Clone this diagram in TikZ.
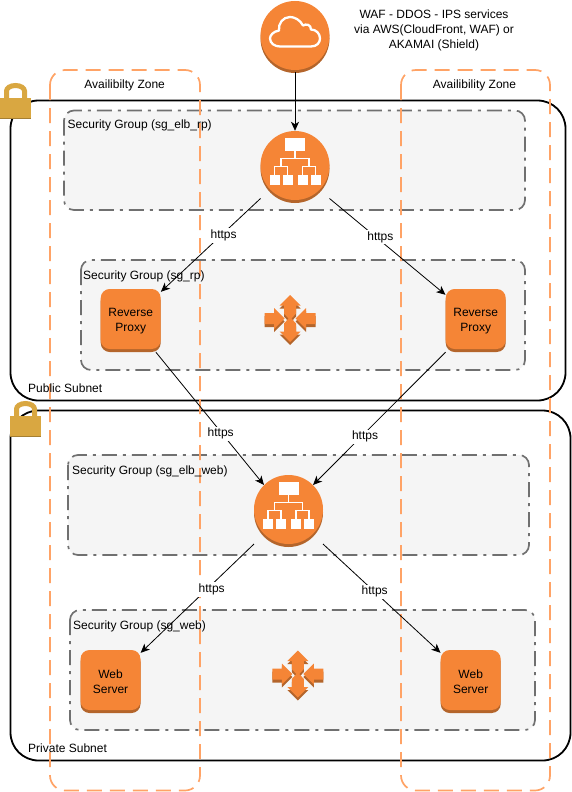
\documentclass[tikz,border=0pt]{standalone}
\usepackage{fontspec}
\setmainfont{Liberation Sans}
\usetikzlibrary{arrows.meta,shadows}
\definecolor{awsorange}{HTML}{F58536}
\definecolor{awsshadow}{HTML}{B4652B}
\definecolor{lockgold}{HTML}{D9A741}
\definecolor{lockshadow}{HTML}{A57F32}
\definecolor{zoneorange}{HTML}{FFA366}
\definecolor{groupline}{HTML}{707070}
\tikzstyle{subnet}=[draw=black,line width=1.8pt,rounded corners=28pt]
\tikzstyle{zone}=[draw=zoneorange,line width=1.7pt,rounded corners=15pt,dash pattern=on 15pt off 8pt]
\tikzstyle{secgroup}=[draw=groupline,fill=black!4,line width=1.7pt,rounded corners=10pt,dash pattern=on 15pt off 6pt on 3pt off 6pt]
\tikzstyle{label}=[font=\fontsize{12}{15}\selectfont,inner sep=0pt,align=center]
\tikzstyle{hubvertex}=[circle,fill=awsorange,minimum size=69pt,inner sep=0pt,general shadow={fill=awsshadow,shadow yshift=-3pt}]
\tikzstyle{server}=[fill=awsorange,rounded corners=9pt,minimum size=60pt,inner sep=0pt,label,general shadow={fill=awsshadow,shadow yshift=-3pt}]
\tikzstyle{edge}=[draw,line width=0.8pt,-{Stealth[length=9pt,width=8pt,inset=2.5pt]}]
\tikzstyle{weight}=[label,fill=white,inner sep=1.5pt]
\tikzset{
  treeicon/.pic={
    \fill[white] (-10,-27.5) rectangle (10,-15);
    \foreach \sx in {-25.5,-12.5,2.5,15.5}
      \fill[white] (\sx,9) rectangle ++(10,10);
    \draw[white,line width=1.1pt] (0,-15) -- (0,-7) (-14,1) |- (14,-7) -- (14,1)
      (-20.5,9) |- (-7.5,1) -- (-7.5,9) (7.5,9) |- (20.5,1) -- (20.5,9);
  },
  cloudicon/.pic={
    \draw[white,line width=2.3pt,line join=round] (-15,11) -- (16,11)
      .. controls (22,11) and (25,7) .. (25,3)
      .. controls (25,-2) and (21,-6) .. (16,-6)
      .. controls (16,-11) and (11,-12) .. (8,-10)
      .. controls (5,-16) and (-1,-18.5) .. (-5,-18.5)
      .. controls (-12,-18.5) and (-17,-12) .. (-16,-5)
      .. controls (-22,-4) and (-25,0) .. (-25,3)
      .. controls (-25,8) and (-20,11) .. (-15,11) -- cycle;
  },
  crossicon/.pic={
    \foreach \dy/\col in {3/awsshadow,0/awsorange}
      \fill[\col,shift={(0,\dy)}] (0,-23.5) -- (10.5,-13) -- (6,-13) -- (6,-5) -- (1.5,0) -- (6,5) -- (6,13)
        -- (10.5,13) -- (0,23.5) -- (-10.5,13) -- (-6,13) -- (-6,5) -- (-1.5,0) -- (-6,-5) -- (-6,-13) -- (-10.5,-13) -- cycle
        (-25.5,-5.5) -- (-16,-5.5) -- (-16,-10.5) -- (-5.5,0) -- (-16,10.5) -- (-16,5.5) -- (-25.5,5.5) -- cycle
        (25.5,-5.5) -- (16,-5.5) -- (16,-10.5) -- (5.5,0) -- (16,10.5) -- (16,5.5) -- (25.5,5.5) -- cycle;
  },
  lockicon/.pic={
    \draw[lockgold,line width=5pt] (-9,16) -- (-9,-7) arc[start angle=180,end angle=0,x radius=9,y radius=-5.5] -- (9,16);
    \fill[lockshadow] (-15.5,15) rectangle (15.5,21);
    \fill[lockgold] (-15.5,0) rectangle (15.5,20);
  }
}

\begin{document}
\begin{tikzpicture}[x=1pt,y=-1pt]
    \useasboundingbox (0,0) rectangle (572,792);
    % First the subnets, the security groups and the zones over them
    \node[subnet,minimum width=555pt,minimum height=300pt] (public) at (288,250.5) {};
    \node[subnet,minimum width=560pt,minimum height=350pt] (private) at (290.5,585.5) {};
    \foreach \ax/\ay/\bx/\by in {64/110.5/525/210, 81/260/525/370, 68/455/529/555, 70/610/535/730}
        \path[secgroup] (\ax,\ay) rectangle (\bx,\by);
    \foreach \ax/\bx in {50/200, 401/550}
        \path[zone] (\ax,70) rectangle (\bx,790.5);
    \pic at (15.5,98) {lockicon};
    \pic at (25.5,416) {lockicon};
    % Then the vertices
    \node[hubvertex] (cloud) at (295,35.5) {};
    \foreach \pos/\name in {{(295,165.5)/elbrp}, {(288.5,509.5)/elbweb}}
        \node[hubvertex] (\name) at \pos {};
    \foreach \pos/\name/\text in {{(130.7,319)/rpleft/Reverse\\Proxy}, {(475.7,319)/rpright/Reverse\\Proxy},
                                  {(110.5,680)/webleft/Web\\Server}, {(470.7,680)/webright/Web\\Server}}
        \node[server] (\name) at \pos {\rule{0pt}{12pt}\text};
    \pic at (cloud) {cloudicon};
    \pic at (elbrp) {treeicon};
    \pic at (elbweb) {treeicon};
    \pic at (290,318.5) {crossicon};
    \pic at (297.8,674) {crossicon};
    % Connect vertices with edges and draw labels
    \path[edge] ([yshift=-2pt]cloud.south) -- (elbrp.north);
    \path[edge] ([shift={(-34.5,33)}]elbrp.center) -- node[weight,pos=.36,xshift=-1pt,yshift=-3.5pt] {https} ([yshift=-3pt]rpleft.north east);
    \path[edge] ([shift={(34.5,33)}]elbrp.center) -- node[weight,pos=.43,xshift=1pt,yshift=3pt] {https} ([yshift=-6pt]rpright.north west);
    \path[edge] ([shift={(-5,3)}]rpleft.south east) -- node[weight,pos=.6,yshift=-2pt] {https} (elbweb.135);
    \path[edge] ([yshift=-3pt]rpright.south west) -- node[weight,pos=.63,xshift=3pt,yshift=-1pt] {https} (elbweb.45);
    \path[edge] ([shift={(-34.5,34.5)}]elbweb.center) -- node[weight,pos=.4,xshift=3pt,yshift=-2pt] {https} ([yshift=-3pt]webleft.north east);
    \path[edge] ([shift={(34.5,34.5)}]elbweb.center) -- node[weight,pos=.44] {https} ([yshift=-3pt]webright.north west);
    % Free labels
    \node[label] (waf) at (434,30.5) {WAF - DDOS - IPS services\\via AWS(CloudFront, WAF) or\\AKAMAI (Shield)};
    \node[label] (zoneleft) at (124.7,85.5) {Availibilty Zone};
    \node[label] (zoneright) at (474.5,85.5) {Availibility Zone};
    \foreach \pos/\name/\text in {{(67.5,125)/grpelbrp/Security Group (sg\_elb\_rp)}, {(83,276)/grprp/Security Group (sg\_rp)},
                                  {(72,471)/grpelbweb/Security Group (sg\_elb\_web)}, {(73,626)/grpweb/Security Group (sg\_web)},
                                  {(28,388)/publabel/Public Subnet}, {(28,748)/privlabel/Private Subnet}}
        \node[label,anchor=west] (\name) at \pos {\text};
\end{tikzpicture}
\end{document}
